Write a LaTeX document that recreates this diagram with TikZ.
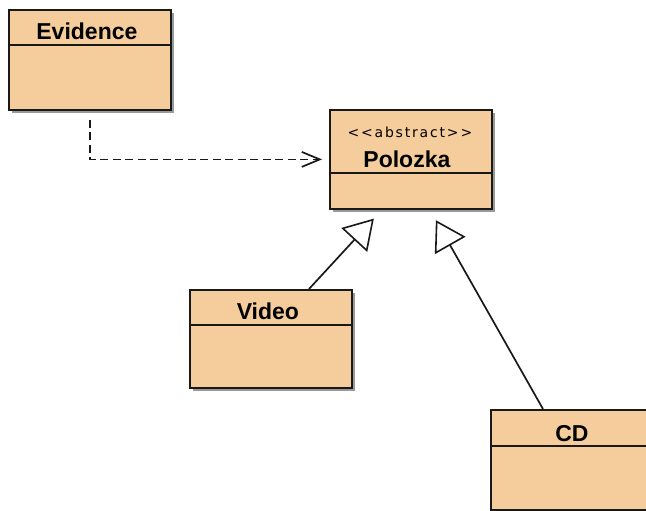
\documentclass[tikz,border=0pt]{standalone}
\usepackage{fontspec}
\setmainfont{Liberation Sans}
\newfontfamily\stereofont[LetterSpace=13]{DejaVu Sans}
\usetikzlibrary{arrows.meta,shadows}

\definecolor{classfill}{RGB}{245,204,155}
\definecolor{inkline}{RGB}{25,25,25}

\tikzset{
  cls/.style={draw=inkline, line width=1.8pt, fill=classfill, inner sep=0pt,
    minimum width=162pt, minimum height=100pt, anchor=north west,
    drop shadow={shadow xshift=3pt, shadow yshift=-3pt, fill=black, opacity=0.4}},
  title/.style={font=\bfseries\fontsize{23}{23}\selectfont, inner sep=0pt, anchor=base, text=black},
  stereo/.style={font=\stereofont\fontsize{14}{14}\selectfont, inner sep=0pt, anchor=base, text=black},
  divider/.style={draw=inkline, line width=1.6pt},
  dep/.style={draw=inkline, line width=1.7pt, dash pattern=on 8pt off 4.5pt,
    -{Straight Barb[length=18pt, width=15pt, line width=1.7pt]},
    shorten <=9pt, shorten >=7pt},
  gen/.style={draw=inkline, line width=1.7pt,
    -{Triangle[length=29pt, width=35pt, fill=white, line width=1.6pt]},
    shorten >=12pt},
}

\begin{document}
\begin{tikzpicture}[x=1pt, y=-1pt]
  \useasboundingbox (0,0) rectangle (646,511);

  % class boxes
  \node[cls] (ev)  at (8,9) {};
  \node[cls, minimum height=99pt] (pol) at (329,109) {};
  \node[cls, minimum height=98pt] (vid) at (189,289) {};
  \node[cls] (cd)  at (490,409) {};

  % header separators
  \draw[divider] ([yshift=-36pt]ev.north west) -- ([yshift=-36pt]ev.north east);
  \draw[divider] ([yshift=-64pt]pol.north west) -- ([yshift=-64pt]pol.north east);
  \draw[divider] ([yshift=-36pt]vid.north west) -- ([yshift=-36pt]vid.north east);
  \draw[divider] ([yshift=-37pt]cd.north west) -- ([yshift=-37pt]cd.north east);

  % class names
  \node[title] (evname)  at ([xshift=-3pt,yshift=-31pt]ev.north)  {Evidence};
  \node[stereo] (polst)  at ([xshift=-1pt,yshift=-28pt]pol.north) {<<abstract>>};
  \node[title] (polname) at ([xshift=-4pt,yshift=-58pt]pol.north) {Polozka};
  \node[title] (vidname) at ([xshift=-3pt,yshift=-30pt]vid.north) {Video};
  \node[title] (cdname)  at ([yshift=-32pt]cd.north)  {CD};

  % dependency
  \draw[dep] (ev.south) |- (pol.west);

  % generalizations
  \draw[gen] ([xshift=120pt]vid.north west) -- ([xshift=53pt]pol.south west);
  \draw[gen] ([xshift=53pt]cd.north west) -- ([xshift=101pt]pol.south west);
\end{tikzpicture}
\end{document}
